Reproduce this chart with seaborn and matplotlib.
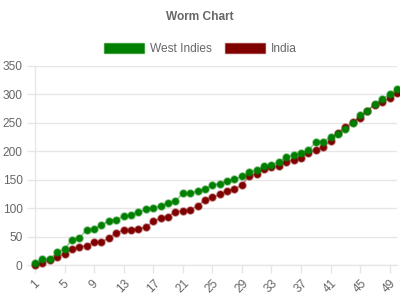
import numpy as np
import pandas as pd
import matplotlib
matplotlib.use("Agg")
import matplotlib.pyplot as plt
from matplotlib.patches import Patch
import seaborn as sns

overs = list(range(1, 51))
west_indies = [4, 10, 10, 23, 28, 44, 48, 62, 64, 70,
               78, 80, 86, 88, 93, 98, 100, 104, 109, 112,
               126, 126, 130, 134, 140, 143, 147, 151, 156, 163,
               167, 174, 176, 181, 190, 193, 197, 202, 216, 217,
               225, 231, 239, 249, 263, 271, 284, 292, 300, 310]
india = [0, 3, 9, 14, 20, 28, 32, 34, 40, 41,
         47, 57, 61, 62, 64, 66, 77, 82, 85, 94,
         95, 97, 104, 114, 119, 124, 130, 134, 140, 157,
         160, 169, 172, 174, 182, 185, 189, 197, 203, 207,
         218, 233, 243, 251, 259, 271, 282, 286, 293, 302]
teams = ["West Indies", "India"]
colors = {"West Indies": "#008000", "India": "#800000"}
x_ticks = list(range(1, 51, 4))
y_ticks = list(range(0, 351, 50))

df = pd.DataFrame({
    "over": overs * 2,
    "runs": west_indies + india,
    "team": ["West Indies"] * len(overs) + ["India"] * len(overs),
})

sns.set_theme(style="white")
plt.rcParams["font.family"] = ["Liberation Sans", "DejaVu Sans"]

fig = plt.figure(figsize=(4, 3), dpi=100)
ax = fig.add_axes([35 / 400, 1 - 265 / 300, 362 / 400, 199 / 300])

grid_c = "#e6e6e6"
text_c = "#666666"

# draw India first so West Indies sits on top
for team in ["India", "West Indies"]:
    sub = df[df["team"] == team]
    c = colors[team]
    sns.lineplot(data=sub, x="over", y="runs", color=c, alpha=0.45,
                 linewidth=1, ax=ax, legend=False, clip_on=False)
    rgb = matplotlib.colors.to_rgb(c)
    sns.scatterplot(data=sub, x="over", y="runs", color=c, s=24,
                    edgecolor=(*rgb, 0.45), linewidth=1.3, ax=ax,
                    legend=False, clip_on=False, zorder=3)

ax.set_xlim(1, 50)
ax.set_ylim(0, 350)
ax.set_xticks(x_ticks)
ax.set_xticklabels([str(t) for t in x_ticks], rotation=45)
ax.set_yticks(y_ticks)
ax.set_yticklabels([str(t) for t in y_ticks])
ax.grid(axis="y", color=grid_c, linewidth=1)
ax.grid(axis="x", visible=False)
ax.set_axisbelow(True)
for s in ["top", "right"]:
    ax.spines[s].set_visible(False)
for s in ["left", "bottom"]:
    ax.spines[s].set_color(grid_c)
    ax.spines[s].set_linewidth(1)
ax.tick_params(axis="both", which="both", length=6, width=1, color=grid_c,
               labelcolor=text_c, labelsize=8.6, pad=3, direction="out",
               bottom=True, left=True)
ax.set_xlabel("")
ax.set_ylabel("")

fig.text(0.5, 1 - 17 / 300, "Worm Chart", ha="center", va="center",
         fontsize=8.6, fontweight="bold", color=text_c)

handles = [Patch(facecolor=colors[t], edgecolor=matplotlib.colors.to_rgba(colors[t], 0.5),
                 linewidth=1, label=t) for t in teams]
leg = fig.legend(handles=handles, loc="center", bbox_to_anchor=(0.5, 1 - 49 / 300),
                 ncol=2, frameon=False, fontsize=8.6, handlelength=3.4,
                 handleheight=1.0, handletextpad=0.45, columnspacing=1.1,
                 borderpad=0)
for t in leg.get_texts():
    t.set_color(text_c)

fig.savefig("out.png", dpi=100)
